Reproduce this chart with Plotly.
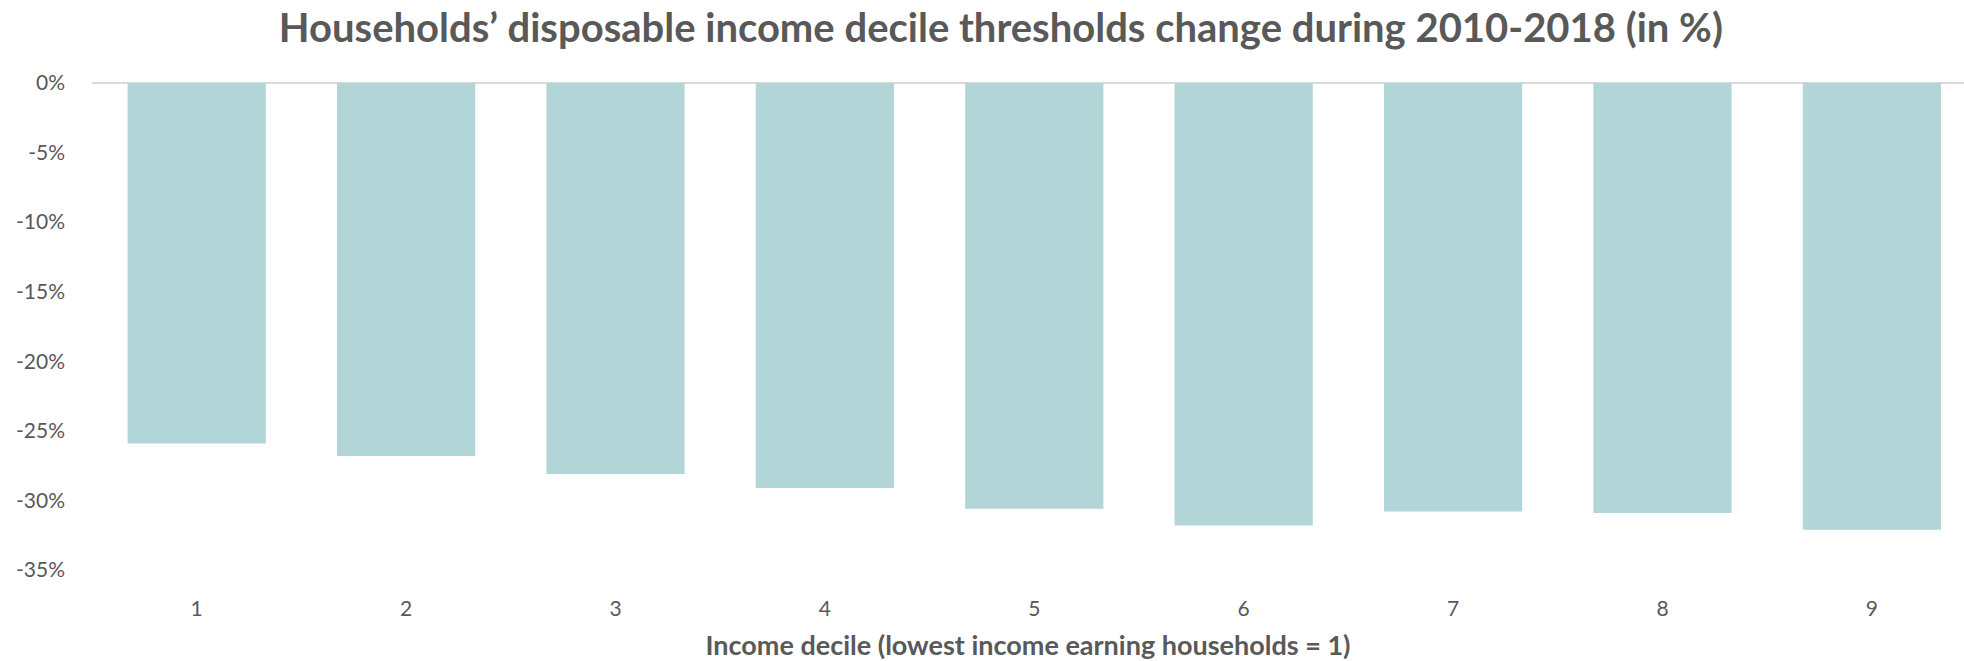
import plotly.graph_objects as go

# Income deciles and change of their thresholds, 2010-2018 (%)
deciles = ["1", "2", "3", "4", "5", "6", "7", "8", "9"]
change_pct = [-25.9, -26.8, -28.1, -29.1, -30.6, -31.8, -30.8, -30.9, -32.1]
y_ticks = [0, -5, -10, -15, -20, -25, -30, -35]
y_tick_labels = [f"{v}%" for v in y_ticks]

FONT = "Lato"
GREY = "#595959"

fig = go.Figure(
    go.Bar(
        x=list(range(len(deciles))),
        y=change_pct,
        marker=dict(color="#B2D5D8", line=dict(width=0)),
        width=0.66,
        hoverinfo="skip",
    )
)

fig.update_layout(
    width=1964,
    height=661,
    margin=dict(l=92, r=0, t=83, b=91),
    paper_bgcolor="white",
    plot_bgcolor="white",
    showlegend=False,
    title=dict(
        text="<b>Households’ disposable income decile thresholds change during 2010-2018 (in %)</b>",
        x=0.5096,
        xanchor="center",
        y=0.958,
        yanchor="middle",
        font=dict(family=FONT, size=40, color=GREY),
    ),
)

fig.update_xaxes(
    range=[-0.5, 8.44],
    tickmode="array",
    tickvals=list(range(len(deciles))),
    ticktext=deciles,
    showgrid=False,
    zeroline=False,
    showline=False,
    ticks="",
    ticklabelstandoff=24,
    tickfont=dict(family=FONT, size=21, color=GREY),
    title=dict(
        text="<b>Income decile (lowest income earning households = 1)</b>",
        font=dict(family=FONT, size=27, color=GREY),
        standoff=18,
    ),
)

fig.update_yaxes(
    range=[-35, 0],
    tickmode="array",
    tickvals=y_ticks,
    ticktext=y_tick_labels,
    showgrid=False,
    zeroline=True,
    zerolinecolor="#D9D9D9",
    zerolinewidth=2,
    showline=False,
    ticks="",
    ticklabelstandoff=26,
    tickfont=dict(family=FONT, size=21, color=GREY),
)

fig.write_html("out.html")
